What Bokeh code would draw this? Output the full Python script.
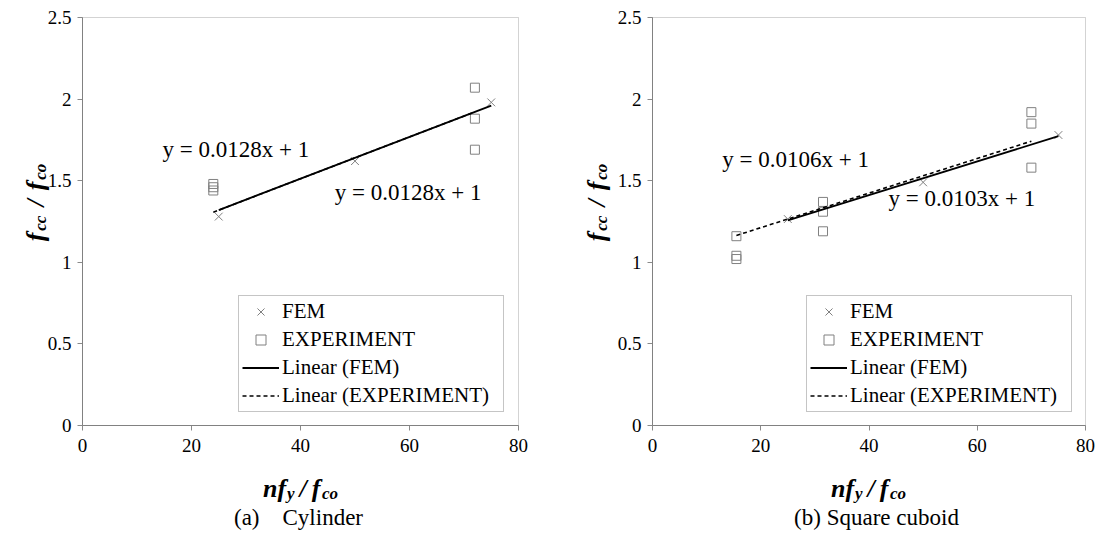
import math
from bokeh.plotting import figure
from bokeh.models import (FixedTicker, CustomJSTickFormatter, Label, Legend, LinearAxis,
                          BoxAnnotation, Range1d)
from bokeh.layouts import row
from bokeh.embed import file_html
from bokeh.resources import INLINE

# ---------------- data ----------------
cyl_fem_x = [25, 50, 75]
cyl_fem_y = [1.28, 1.62, 1.98]
cyl_exp_x = [24, 24, 24, 72, 72, 72]
cyl_exp_y = [1.44, 1.46, 1.48, 2.07, 1.88, 1.69]
cyl_fem_slope = 0.0128
cyl_exp_slope = 0.0128

sq_fem_x = [25, 50, 75]
sq_fem_y = [1.265, 1.49, 1.78]
sq_exp_x = [15.5, 15.5, 15.5, 31.5, 31.5, 31.5, 70, 70, 70]
sq_exp_y = [1.16, 1.04, 1.02, 1.37, 1.31, 1.19, 1.92, 1.85, 1.58]
sq_fem_slope = 0.0103
sq_exp_slope = 0.0106
intercept = 1

x_ticks = [0, 20, 40, 60, 80]
y_ticks = [0, 0.5, 1, 1.5, 2, 2.5]
X_MIN, X_MAX = 0, 80
Y_MIN, Y_MAX = 0, 2.5
legend_labels = ["FEM", "EXPERIMENT", "Linear (FEM)", "Linear (EXPERIMENT)"]
captions = ["(a)" + "\u00a0" * 4 + "Cylinder", "(b) Square cuboid"]

FONT = "Liberation Serif"
GRAY = "#808080"
AXIS = "#8a8a8a"
H = 546
PLOT_TOP, PLOT_BOTTOM = 17, 425   # pixel rows of the plot area

# Liberation Serif Bold Italic advance widths (per 1000 em)
BI = {"n": 556, "f": 333, "y": 444, "/": 278, "c": 444, "o": 500}
MAIN = 26
SUB = 17


def w(s, size):
    return sum(BI[ch] for ch in s) * size / 1000.0


def math_title(p, pieces, x, y, vertical=False):
    # pieces: (text, is_sub, extra_gap_after)
    total = sum(w(t, SUB if s else MAIN) + g for t, s, g in pieces)
    off = -total / 2.0
    for t, s, g in pieces:
        size = SUB if s else MAIN
        kw = dict(x=x, y=y, text=t, text_font=FONT, text_font_style="bold italic",
                  text_font_size=f"{size}px", text_color="black",
                  text_align="left", text_baseline="alphabetic")
        if vertical:
            lab = Label(angle=math.pi / 2, x_offset=(5 if s else 0), y_offset=off, **kw)
        else:
            lab = Label(x_offset=off, y_offset=(-5 if s else 0), **kw)
        p.add_layout(lab)
        off += w(t, size) + g


def panel(width, plot_left, plot_right, fem_x, fem_y, exp_x, exp_y, fem_slope, exp_slope,
          eqs, caption, ytitle_px, xtitle_px, caption_px, legend_px):
    sx = (plot_right - plot_left) / (X_MAX - X_MIN)
    sy = (PLOT_BOTTOM - PLOT_TOP) / (Y_MAX - Y_MIN)
    dx = lambda px: X_MIN + (px - plot_left) / sx
    dy = lambda py: Y_MIN + (PLOT_BOTTOM - py) / sy
    xr = Range1d(dx(0), dx(width))
    yr = Range1d(dy(H), dy(0))

    p = figure(width=width, height=H, x_range=xr, y_range=yr,
               output_backend="svg", toolbar_location=None, title_location=None,
               x_axis_location=None, y_axis_location=None, min_border=0)
    p.background_fill_color = "white"
    p.border_fill_color = "white"
    p.outline_line_color = None
    p.grid.visible = False

    p.add_layout(BoxAnnotation(left=X_MIN, right=X_MAX, bottom=Y_MIN, top=Y_MAX,
                               fill_alpha=0, line_color="#6e6e6e", line_width=1))

    xa = LinearAxis(fixed_location=Y_MIN, bounds=(X_MIN, X_MAX), ticker=FixedTicker(ticks=x_ticks))
    ya = LinearAxis(fixed_location=X_MIN, bounds=(Y_MIN, Y_MAX), ticker=FixedTicker(ticks=y_ticks))
    for ax in (xa, ya):
        ax.formatter = CustomJSTickFormatter(code="return tick.toString()")
        ax.axis_line_color = AXIS
        ax.major_tick_line_color = AXIS
        ax.major_tick_out = 5
        ax.major_tick_in = 0
        ax.minor_tick_line_color = None
        ax.major_label_text_font = FONT
        ax.major_label_text_font_size = "19px"
        ax.major_label_text_color = "black"
    xa.major_label_standoff = 8
    ya.major_label_standoff = 6
    p.add_layout(xa, "below")
    p.add_layout(ya, "left")

    r_fem = p.scatter(fem_x, fem_y, marker="x", size=11, line_color=GRAY, line_width=1)
    r_exp = p.scatter(exp_x, exp_y, marker="square", size=9, fill_color=None,
                      line_color=GRAY, line_width=1)
    fx = [min(fem_x), max(fem_x)]
    ex = [min(exp_x), max(exp_x)]
    l_fem = p.line(fx, [fem_slope * v + intercept for v in fx], line_color="black", line_width=1.8)
    l_exp = p.line(ex, [exp_slope * v + intercept for v in ex], line_color="black",
                   line_width=1.6, line_dash="4 3")

    legend = Legend(items=[(legend_labels[0], [r_fem]), (legend_labels[1], [r_exp]),
                           (legend_labels[2], [l_fem]), (legend_labels[3], [l_exp])],
                    location=(legend_px[0], H - legend_px[1]), margin=0, padding=3, spacing=3,
                    glyph_width=37, glyph_height=25, label_height=25, label_width=218,
                    label_standoff=3, label_text_font=FONT, label_text_font_size="21px",
                    label_text_color="black",
                    border_line_color="#8c8c8c", border_line_width=1,
                    background_fill_color="white", background_fill_alpha=1)
    p.add_layout(legend)

    for (ex_, ey_, txt) in eqs:
        p.add_layout(Label(x=ex_, y=ey_, text=txt, text_font=FONT, text_font_size="23px",
                           text_baseline="middle", text_align="left", text_color="black"))

    math_title(p, [("f", False, 2), ("cc", True, 9), ("/", False, 9),
                   ("f", False, 2), ("co", True, 0)],
               dx(ytitle_px[0]), dy(ytitle_px[1]), vertical=True)
    math_title(p, [("n", False, 0), ("f", False, 1), ("y", True, 5), ("/", False, 5),
                   ("f", False, 1.5), ("co", True, 0)], dx(xtitle_px[0]), dy(xtitle_px[1]))
    p.add_layout(Label(x=dx(caption_px[0]), y=dy(caption_px[1]), text=caption, text_font=FONT,
                       text_font_size="23px", text_align="center", text_baseline="middle",
                       text_color="black"))
    return p


left_panel = panel(549, 82, 518, cyl_fem_x, cyl_fem_y, cyl_exp_x, cyl_exp_y,
                   cyl_fem_slope, cyl_exp_slope,
                   [(14.7, 1.69, "y = 0.0128x + 1"), (46.3, 1.43, "y = 0.0128x + 1")],
                   captions[0], (35, 202), (300, 488), (298, 517), (238, 412))
right_panel = panel(550, 103, 536, sq_fem_x, sq_fem_y, sq_exp_x, sq_exp_y,
                    sq_fem_slope, sq_exp_slope,
                    [(12.9, 1.63, "y = 0.0106x + 1"), (43.6, 1.39, "y = 0.0103x + 1")],
                    captions[1], (47, 202), (319, 488), (327, 517), (257, 412))

layout = row(left_panel, right_panel)
open("out.html", "w").write(file_html(layout, INLINE))
